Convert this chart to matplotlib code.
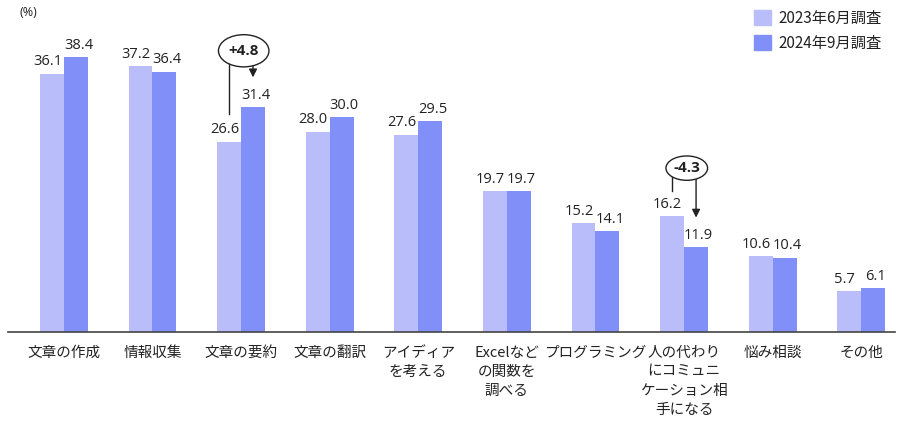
import numpy as np
import matplotlib
matplotlib.use('Agg')
import matplotlib.pyplot as plt
from matplotlib.patches import Ellipse, Patch

plt.rcParams['font.family'] = ['Noto Sans CJK JP', 'DejaVu Sans']

categories = ['文章の作成', '情報収集', '文章の要約', '文章の翻訳', 'アイディア\nを考える',
              'Excelなど\nの関数を\n調べる', 'プログラミング', '人の代わり\nにコミュニ\nケーション相\n手になる',
              '悩み相談', 'その他']
jun_2023 = [36.1, 37.2, 26.6, 28.0, 27.6, 19.7, 15.2, 16.2, 10.6, 5.7]
sep_2024 = [38.4, 36.4, 31.4, 30.0, 29.5, 19.7, 14.1, 11.9, 10.4, 6.1]
series_names = ['2023年6月調査', '2024年9月調査']

c_light = '#b9befb'
c_dark = '#8190f8'
txt = '#222222'
num_font = ['Open Sans', 'DejaVu Sans']

fig = plt.figure(figsize=(9, 4.28), dpi=100)
ax = fig.add_axes([8 / 900, 1 - 332 / 428, 887 / 900, 322 / 428])

x = np.arange(len(categories))
w = 0.27
ax.bar(x - w / 2, jun_2023, w, color=c_light)
ax.bar(x + w / 2, sep_2024, w, color=c_dark)

for xi, a, b in zip(x, jun_2023, sep_2024):
    ax.text(xi - w / 2 - 0.05, a + 0.6, f'{a:.1f}', ha='center', va='bottom', fontsize=10.5,
            color=txt, family=num_font)
    ax.text(xi + w / 2 + 0.03, b + 0.6, f'{b:.1f}', ha='center', va='bottom', fontsize=10.5,
            color=txt, family=num_font)

ax.set_xlim(-0.63, 9.38)
ax.set_ylim(0, 45)
ax.set_xticks(x)
ax.set_xticklabels(categories, fontsize=10.5, color=txt, linespacing=1.45, va='top')
ax.tick_params(axis='x', length=0, pad=10)
ax.set_yticks([])
for s in ['top', 'right', 'left']:
    ax.spines[s].set_visible(False)
ax.spines['bottom'].set_color('#444444')
ax.spines['bottom'].set_linewidth(1.2)

fig.text(20 / 900, 1 - 13 / 428, '(%)', fontsize=9, color=txt, ha='left', va='center', family=num_font)

# change annotations
def change_note(i, label, cy, top_left, tip, ew, eh):
    ell = Ellipse((i + 0.03, cy), ew, eh, facecolor='white', edgecolor='#222222', lw=1.0, zorder=4)
    ax.add_patch(ell)
    ax.text(i + 0.03, cy, label, ha='center', va='center', fontsize=11, fontweight='bold',
            color=txt, zorder=5, family=num_font)
    ax.plot([i - w / 2, i - w / 2], [cy - eh * 0.3, top_left], color='#222222', lw=1.0, zorder=3)
    ax.annotate('', xy=(i + w / 2, tip), xytext=(i + w / 2, cy - eh * 0.3),
                arrowprops=dict(arrowstyle='-|>', color='#222222', lw=1.0, mutation_scale=12), zorder=3)

change_note(2, '+4.8', 39.3, 30.4, 35.2, 0.57, 4.5)
change_note(7, '-4.3', 22.9, 19.7, 15.6, 0.47, 3.4)

handles = [Patch(color=c_light), Patch(color=c_dark)]
leg = fig.legend(handles, series_names, loc='upper right', bbox_to_anchor=(0.995, 1.01),
                 frameon=False, fontsize=11, handlelength=1.1, handleheight=1.1,
                 handletextpad=0.5, labelspacing=0.55)
for t in leg.get_texts():
    t.set_color(txt)

fig.savefig('out.png', dpi=100)
